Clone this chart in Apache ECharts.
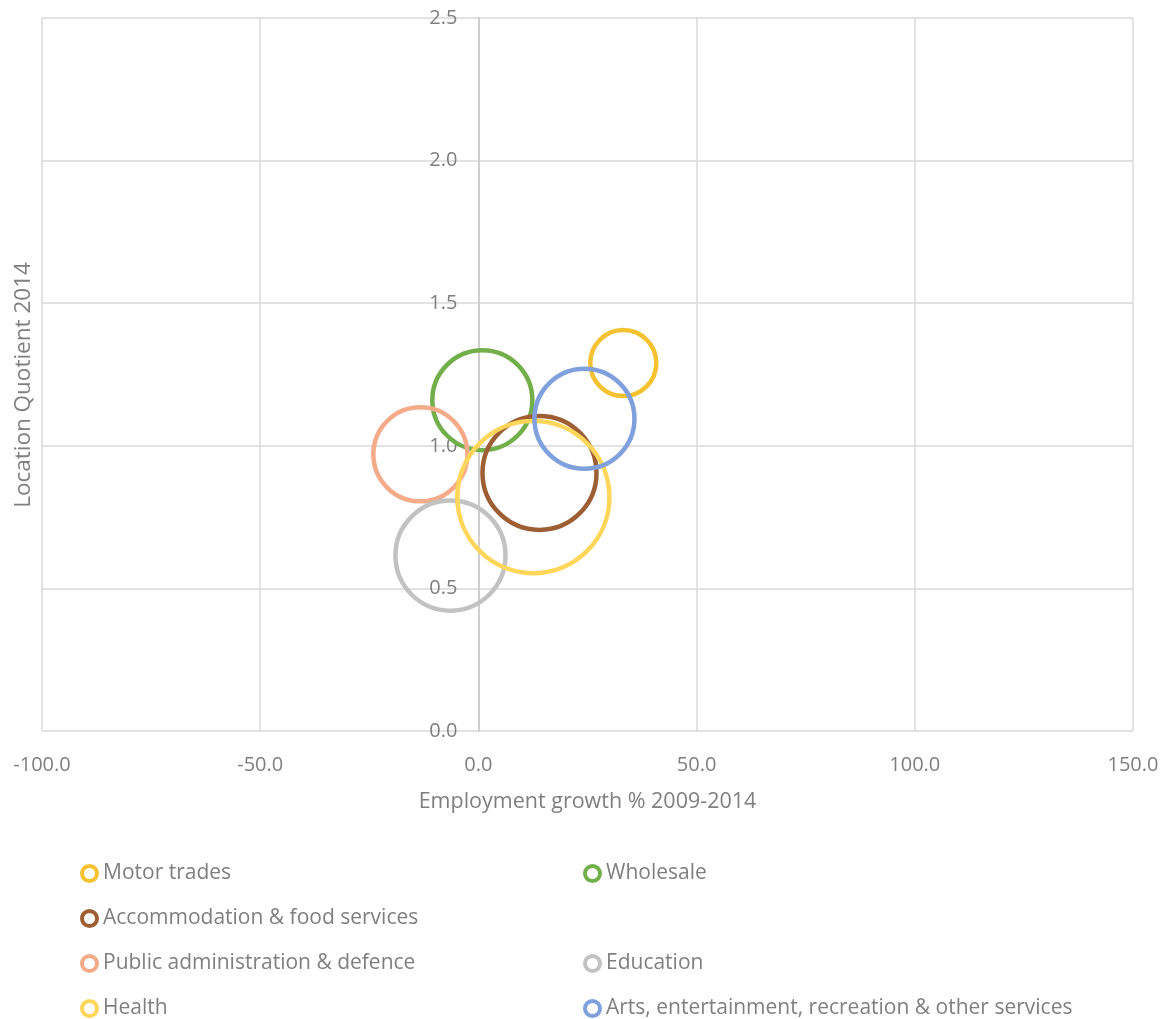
<!DOCTYPE html>
<html><head><meta charset="utf-8">
<script src="https://cdn.jsdelivr.net/npm/echarts@6/dist/echarts.min.js"></script>
<style>html,body{margin:0;padding:0;background:#fff}#c{width:1167px;height:1019px}</style>
</head><body><div id="c"></div>
<script>
const sectors = ["Motor trades","Wholesale","Accommodation & food services","Public administration & defence","Education","Health","Arts, entertainment, recreation & other services"];
const growth = [33.2, 0.9, 14.0, -13.3, -6.4, 12.6, 24.3];
const lq = [1.29, 1.16, 0.905, 0.97, 0.615, 0.82, 1.095];
const bubbleSize = [1090, 2500, 3250, 2210, 3030, 5780, 2500];
const colors = ["#F4C131","#72AE4A","#9E5E33","#F4AB8A","#C2C2C2","#FFD55A","#7FA0DC"];
const xTicks = [-100, -50, 0, 50, 100, 150];
const yTicks = [0, 0.5, 1.0, 1.5, 2.0, 2.5];
const legendSlots = [0, 1, 2, 4, 5, 6, 7]; // slot 3 (row 2, col 2) left empty

const W = 1167, H = 1019;
const G = { left: 42, right: 34, top: 18, bottom: 288 };
const gridW = W - G.left - G.right;
const xMin = xTicks[0], xMax = xTicks[xTicks.length - 1];
const yAxisOffset = -gridW * (0 - xMin) / (xMax - xMin);

const font = "'Open Sans', 'Noto Sans', sans-serif";
const txt = "#7F7F7F";
const series = sectors.map((n, i) => ({
  name: n, type: 'scatter',
  data: [[growth[i], lq[i], bubbleSize[i]]],
  symbolSize: v => 2 * Math.sqrt(v[2]),
  itemStyle: { color: 'rgba(255,255,255,0)', borderColor: colors[i], borderWidth: 4.5, opacity: 1 },
  emphasis: { disabled: true }
}));
const legends = sectors.map((n, i) => {
  const s = legendSlots[i];
  return {
    data: [n], left: (s % 2 === 0 ? 80 : 583), top: 863 + Math.floor(s / 2) * 45,
    padding: 0,
    icon: 'circle', itemWidth: 15, itemHeight: 15, itemGap: 0,
    itemStyle: { color: '#fff', borderColor: colors[i], borderWidth: 4 },
    textStyle: { color: txt, fontSize: 21, fontFamily: font, padding: [0, 0, 0, 1] },
    selectedMode: false
  };
});
const chart = echarts.init(document.getElementById('c'), null, { renderer: 'canvas' });
chart.setOption({
  animation: false,
  grid: { left: G.left, right: G.right, top: G.top, bottom: G.bottom, containLabel: false, outerBoundsMode: 'none' },
  xAxis: {
    type: 'value', min: xMin, max: xMax, interval: 50,
    axisLine: { show: false }, axisTick: { show: false },
    splitLine: { show: true, lineStyle: { color: '#D9D9D9', width: 1.5 } },
    axisLabel: { color: txt, fontSize: 20, fontFamily: font, margin: 24, formatter: v => v.toFixed(1) },
    name: 'Employment growth % 2009-2014', nameLocation: 'middle', nameGap: 60,
    nameTextStyle: { color: txt, fontSize: 21.5, fontFamily: font }
  },
  yAxis: {
    type: 'value', min: yTicks[0], max: yTicks[yTicks.length - 1], interval: 0.5,
    position: 'left', offset: yAxisOffset,
    axisLine: { show: true, onZero: false, lineStyle: { color: '#C8C8C8', width: 1.5 } },
    axisTick: { show: false },
    splitLine: { show: true, lineStyle: { color: '#D9D9D9', width: 1.5 } },
    axisLabel: { color: txt, fontSize: 20, fontFamily: font, margin: 21, formatter: v => v.toFixed(1) }
  },
  graphic: [{
    type: 'text', x: 24, y: 385, rotation: Math.PI / 2,
    style: { text: 'Location Quotient 2014', fill: txt, fontSize: 22.5, fontFamily: font, align: 'center', verticalAlign: 'middle' }
  }],
  legend: legends,
  series: series
});
</script></body></html>
